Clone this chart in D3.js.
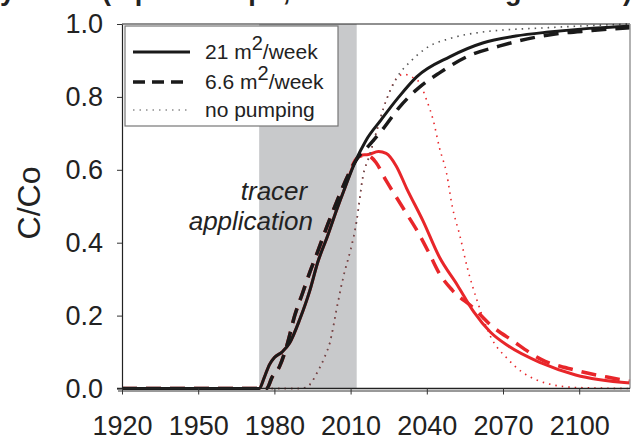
<!DOCTYPE html>
<head>
  <meta charset="utf-8" />
  <script src="https://d3js.org/d3.v7.min.js"></script>
  <style>
    body { margin: 0; background: white; }
    text { font-family: "Liberation Sans", Arial, sans-serif; fill: #222; }
  </style>
</head>
<body>
<script>
// data: [year, C/Co]
var pumped21 = [[1920,0],[1974,0],[1976,0.03],[1978,0.065],[1980,0.085],[1983,0.1],[1986,0.125],[1990,0.19],[1994,0.27],[1997,0.345],[2001,0.42],[2004,0.48],[2008,0.555],[2012,0.625],[2016,0.68],[2022,0.737],[2029,0.8],[2036,0.855],[2049,0.91],[2062,0.948],[2075,0.967],[2088,0.978],[2104,0.988],[2120,0.994]];
var pumped66 = [[1920,0],[1977,0],[1979,0.03],[1982,0.06],[1985,0.12],[1988,0.2],[1991,0.26],[1994,0.32],[1997,0.375],[2001,0.45],[2005,0.52],[2009,0.585],[2013,0.635],[2017,0.665],[2022.5,0.71],[2029,0.77],[2036,0.82],[2045,0.866],[2055.7,0.91],[2068.8,0.94],[2088,0.97],[2105,0.982],[2120,0.99]];
var noPump = [[1920,0],[1990,0],[1993,0.005],[1997,0.046],[2000,0.09],[2002,0.13],[2004,0.2],[2006,0.27],[2008,0.33],[2010,0.38],[2012.4,0.46],[2014.8,0.58],[2017.5,0.64],[2020,0.7],[2024,0.79],[2028,0.85],[2034,0.9],[2040,0.935],[2049,0.96],[2062,0.978],[2088,0.99],[2120,1.0]];
var pumped21b = [[1920,0],[1974,0],[1976,0.03],[1978,0.065],[1980,0.085],[1983,0.1],[1986,0.125],[1990,0.19],[1994,0.27],[1997,0.345],[2001,0.42],[2004,0.48],[2008,0.555],[2012,0.625],[2014,0.64],[2017,0.642],[2021,0.65],[2024,0.645],[2028,0.61],[2032,0.55],[2038.5,0.46],[2045,0.36],[2052,0.284],[2058.5,0.21],[2065,0.155],[2072,0.117],[2085,0.07],[2098.6,0.037],[2120,0.015]];
var pumped66b = [[1920,0],[1977,0],[1979,0.03],[1982,0.06],[1985,0.12],[1988,0.2],[1991,0.26],[1994,0.32],[1997,0.375],[2001,0.45],[2005,0.52],[2009,0.585],[2013,0.635],[2016,0.64],[2018,0.635],[2020,0.62],[2024,0.57],[2028,0.525],[2032,0.48],[2036,0.435],[2041,0.37],[2045,0.315],[2050,0.27],[2058.5,0.22],[2065,0.175],[2074,0.13],[2085,0.08],[2098.6,0.05],[2112,0.03],[2120,0.02]];
var noPumpB = [[1920,0],[1990,0],[1993,0.005],[1997,0.046],[2000,0.09],[2002,0.13],[2004,0.2],[2006,0.27],[2008,0.33],[2010,0.38],[2012.4,0.46],[2014.8,0.58],[2017.5,0.64],[2020,0.7],[2024,0.79],[2028,0.85],[2031,0.862],[2034,0.855],[2037,0.84],[2040,0.79],[2042.5,0.737],[2045,0.66],[2047.8,0.59],[2050,0.5],[2053,0.42],[2056,0.33],[2060,0.237],[2065,0.144],[2072,0.08],[2083,0.024],[2098,0.003],[2120,0]];
var tracerSpan = [1974, 2012.4];
var xTicks = [1920, 1950, 1980, 2010, 2040, 2070, 2100];
var yTicks = [0, 0.2, 0.4, 0.6, 0.8, 1.0];

var width = 636, height = 444;
var svg = d3.select("body").append("svg").attr("width", width).attr("height", height);

var x = d3.scaleLinear().domain([1920, 2120]).range([122, 630]);
var y = d3.scaleLinear().domain([0, 1]).range([388.5, 24]);

// title line, cut off by the top edge in the picture
svg.append("text").attr("x", -8).attr("y", 0)
  .attr("font-size", 27).attr("font-weight", "bold")
  .attr("textLength", 640)
  .text("ly when (a pulse in pit, then held at long stretch)");

// tracer application band
svg.append("rect")
  .attr("x", x(tracerSpan[0])).attr("y", y(1))
  .attr("width", x(tracerSpan[1]) - x(tracerSpan[0]))
  .attr("height", y(0) - y(1))
  .attr("fill", "#c8c9cb");

svg.append("text").attr("x", 274).attr("y", 200)
  .attr("font-size", 26).attr("font-style", "italic").attr("text-anchor", "middle")
  .text("tracer");
svg.append("text").attr("x", 313).attr("y", 230)
  .attr("font-size", 26).attr("font-style", "italic").attr("text-anchor", "end")
  .text("application");

var line = d3.line().x(d => x(d[0])).y(d => y(d[1])).curve(d3.curveMonotoneX);

var series = [
  { data: noPumpB, color: "#e8262a", w: 1.6, dash: "1.5,5" },
  { data: pumped66b, color: "#e8262a", w: 3.5, dash: "15,9" },
  { data: pumped21b, color: "#e8262a", w: 3, dash: null },
  { data: noPump, color: "#555", w: 1.6, dash: "1.5,5" },
  { data: pumped66, color: "#1a1a1a", w: 3.5, dash: "15,9" },
  { data: pumped21, color: "#1a1a1a", w: 3, dash: null }
];

svg.append("g").selectAll("path").data(series).join("path")
  .attr("d", d => line(d.data))
  .attr("fill", "none")
  .attr("stroke", d => d.color)
  .attr("stroke-width", d => d.w)
  .attr("stroke-dasharray", d => d.dash);

// frame
svg.append("line").attr("x1", x(1920)).attr("x2", x(2120)).attr("y1", y(1)).attr("y2", y(1))
  .attr("stroke", "#222").attr("stroke-width", 1.2);
svg.append("line").attr("x1", x(2120)).attr("x2", x(2120)).attr("y1", y(1)).attr("y2", y(0))
  .attr("stroke", "#999").attr("stroke-width", 1.5);
svg.append("line").attr("x1", x(1920) - 4).attr("x2", x(2120)).attr("y1", y(0) + 2.5).attr("y2", y(0) + 2.5)
  .attr("stroke", "#999").attr("stroke-width", 2);

// axes
var xAxis = svg.append("g").attr("transform", "translate(0," + y(0) + ")")
  .call(d3.axisBottom(x).tickValues(xTicks).tickFormat(d3.format("d")).tickSize(6).tickSizeOuter(0));
xAxis.select(".domain").attr("stroke", "#222").attr("stroke-width", 1.5).attr("d", "M" + (x(1920) - 5) + ",0H" + x(2120));
xAxis.selectAll(".tick line").attr("stroke", "#333");
xAxis.selectAll("text").attr("font-size", 27).attr("y", 46).attr("dy", 0).attr("fill", "#222")
  .style("font-family", "'Liberation Sans', Arial, sans-serif");

var yAxis = svg.append("g").attr("transform", "translate(" + x(1920) + ",0)")
  .call(d3.axisLeft(y).tickValues(yTicks).tickFormat(d3.format(".1f")).tickSize(5).tickSizeOuter(0).tickPadding(14));
yAxis.select(".domain").attr("stroke", "#222").attr("stroke-width", 1.2);
yAxis.selectAll(".tick line").attr("stroke", "#333");
yAxis.selectAll("text").attr("font-size", 27).attr("fill", "#222")
  .style("font-family", "'Liberation Sans', Arial, sans-serif");

svg.append("text").attr("transform", "translate(40,203) rotate(-90)")
  .attr("text-anchor", "middle").attr("font-size", 32).text("C/Co");

// legend
var lg = svg.append("g");
lg.append("rect").attr("x", 125).attr("y", 26).attr("width", 213).attr("height", 100)
  .attr("fill", "white").attr("stroke", "#777").attr("stroke-width", 1.2);
var legendItems = [
  { label: "21 m", sup: "2", tail: "/week", w: 3, dash: null, color: "#1a1a1a" },
  { label: "6.6 m", sup: "2", tail: "/week", w: 3.5, dash: "12,7", color: "#1a1a1a" },
  { label: "no pumping", sup: "", tail: "", w: 1.2, dash: "1.5,5", color: "#555" }
];
var rowY = [52, 82, 110];
legendItems.forEach(function (d, i) {
  lg.append("line").attr("x1", 133).attr("x2", 190).attr("y1", rowY[i]).attr("y2", rowY[i])
    .attr("stroke", d.color).attr("stroke-width", d.w).attr("stroke-dasharray", d.dash);
  var t = lg.append("text").attr("x", 205).attr("y", rowY[i] + 7).attr("font-size", 21);
  t.append("tspan").text(d.label);
  if (d.sup) {
    t.append("tspan").attr("dy", -9).attr("font-size", 20).text(d.sup);
    t.append("tspan").attr("dy", 9).text(d.tail);
  }
});
</script>
</body>
